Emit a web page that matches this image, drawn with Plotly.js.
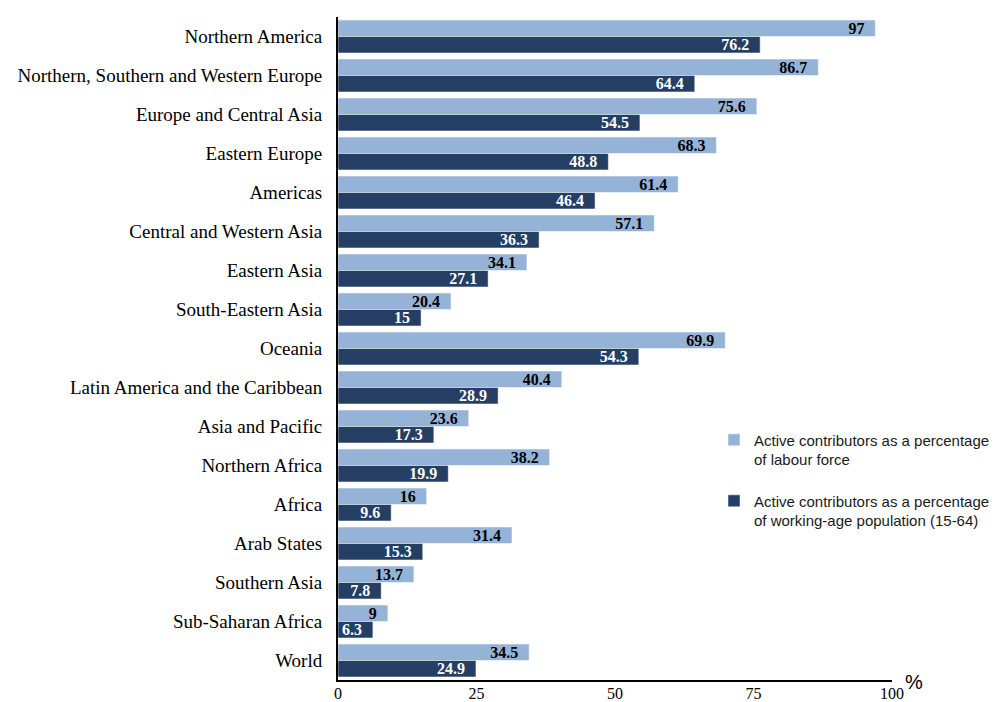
<!DOCTYPE html>
<html>
<head>
<meta charset="utf-8">
<script src="https://cdn.plot.ly/plotly-3.0.1.min.js"></script>
<style>html,body{margin:0;padding:0;background:#fff}#chart{width:1000px;height:702px}</style>
</head>
<body>
<div id="chart"></div>
<script>
const categories = [
  "Northern America",
  "Northern, Southern and Western Europe",
  "Europe and Central Asia",
  "Eastern Europe",
  "Americas",
  "Central and Western Asia",
  "Eastern Asia",
  "South-Eastern Asia",
  "Oceania",
  "Latin America and the Caribbean",
  "Asia and Pacific",
  "Northern Africa",
  "Africa",
  "Arab States",
  "Southern Asia",
  "Sub-Saharan Africa",
  "World"
];
const labourForce = [97, 86.7, 75.6, 68.3, 61.4, 57.1, 34.1, 20.4, 69.9, 40.4, 23.6, 38.2, 16, 31.4, 13.7, 9, 34.5];
const workingAge = [76.2, 64.4, 54.5, 48.8, 46.4, 36.3, 27.1, 15, 54.3, 28.9, 17.3, 19.9, 9.6, 15.3, 7.8, 6.3, 24.9];
const seriesNames = [
  "Active contributors as a percentage<br>of labour force",
  "Active contributors as a percentage<br>of working-age population (15-64)"
];
const xTicks = [0, 25, 50, 75, 100];

const serif = "Liberation Serif, Times New Roman, serif";
const sans = "Liberation Sans, Arial, sans-serif";
const labelFont = {family: serif, size: 16, weight: 700};
const pad = "\u00a0\u00a0";

const traces = [
  {
    type: "bar", orientation: "h",
    y: categories, x: labourForce, name: seriesNames[0],
    legendgroup: "a",
    marker: {color: "#95b3d7", line: {color: "#ffffff", width: 0.5}},
    text: labourForce.map(v => v + pad), textposition: "inside", insidetextanchor: "end",
    textangle: 0,
    textfont: Object.assign({color: "#000000"}, labelFont),
    constraintext: "none", cliponaxis: false,
    hoverinfo: "x+y"
  },
  {
    type: "bar", orientation: "h",
    y: categories, x: workingAge, name: seriesNames[1],
    legendgroup: "b",
    marker: {color: "#243f63", line: {color: "#ffffff", width: 0.5}},
    text: workingAge.map(v => v + pad), textposition: "inside", insidetextanchor: "end",
    textangle: 0,
    textfont: Object.assign({color: "#ffffff"}, labelFont),
    constraintext: "none", cliponaxis: false,
    hoverinfo: "x+y"
  }
];

const layout = {
  width: 1000, height: 702,
  margin: {l: 338, r: 108, t: 17, b: 22, autoexpand: false},
  paper_bgcolor: "#ffffff", plot_bgcolor: "#ffffff",
  barmode: "group", bargap: 0.155, bargroupgap: 0,
  showlegend: true,
  legend: {
    xref: "container", yref: "container",
    x: 0.714, y: 0.3966, xanchor: "left", yanchor: "top",
    traceorder: "grouped", tracegroupgap: 19,
    valign: "top", itemwidth: 30,
    font: {family: sans, size: 15, color: "#1a1a1a"},
    bgcolor: "rgba(0,0,0,0)"
  },
  xaxis: {
    range: [0, 100], tickvals: xTicks, ticktext: xTicks.map(String),
    showgrid: false, zeroline: false,
    showline: true, linecolor: "#000", linewidth: 2,
    ticks: "", fixedrange: true, ticklabelstandoff: -2,
    tickfont: {family: serif, size: 16, color: "#000"}
  },
  yaxis: {
    type: "category", autorange: "reversed",
    showgrid: false, zeroline: false,
    showline: true, linecolor: "#000", linewidth: 2,
    ticks: "", ticklabelstandoff: 10,
    tickfont: {family: serif, size: 19, color: "#000"}
  },
  annotations: [
    {text: "%", xref: "paper", yref: "paper", x: 1.04, y: -0.003, xanchor: "center", yanchor: "middle",
     showarrow: false, font: {family: sans, size: 20, color: "#000"}}
  ]
};

Plotly.newPlot("chart", traces, layout, {displayModeBar: false, staticPlot: true});
</script>
</body>
</html>
